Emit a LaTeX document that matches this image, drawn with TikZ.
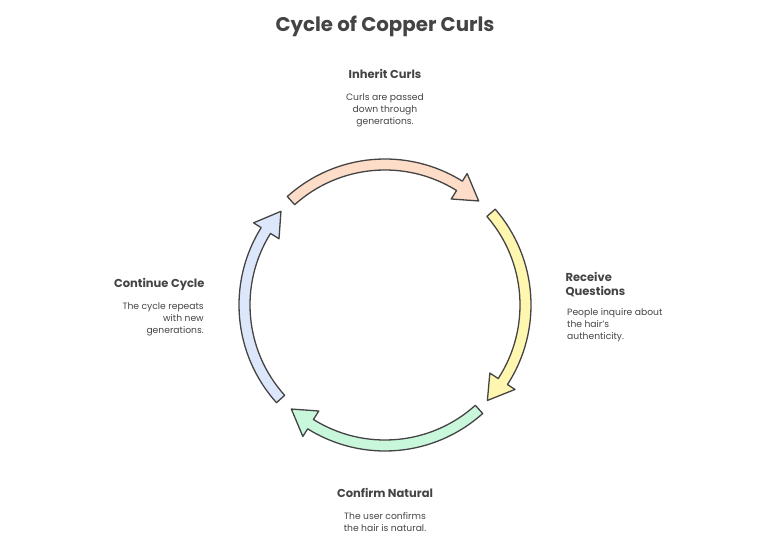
\documentclass[tikz,border=0pt]{standalone}
\usepackage{fontspec}
\setmainfont{Poppins}
\usepackage{tikz}
\usetikzlibrary{positioning, calc}

\definecolor{ink}{HTML}{444444}
\definecolor{peach}{HTML}{FDDCC8}
\definecolor{lemon}{HTML}{FFF6B0}
\definecolor{mint}{HTML}{C8F7DC}
\definecolor{sky}{HTML}{DDE7FC}

% one clockwise arrow of the cycle: tail angle, tip angle, fill
\newcommand{\cyclearrow}[3]{%
  \draw[arrowpiece, fill=#3] (#1:146) arc[start angle=#1, end angle=#2+10, radius=146]
    -- (#2+10:155) -- (#2:140) -- (#2+10:125) -- (#2+10:135)
    arc[start angle=#2+10, end angle=#1, radius=135] -- cycle;}

\begin{document}
\begin{tikzpicture}[x=1pt, y=1pt,
    arrowpiece/.style={draw=ink, line width=1.3pt, line join=round},
    titletext/.style={text=ink, font=\fontsize{19.8}{23}\selectfont\bfseries},
    headtext/.style={text=ink, font=\fontsize{11.5}{14}\selectfont\bfseries},
    bodytext/.style={text=ink, font=\fontsize{9.2}{12}\selectfont, inner sep=0pt}]
  \useasboundingbox (0,0) rectangle (770,554);

  \node[titletext] (title) at (385,528) {Cycle of Copper Curls};

  % the four steps round the circle
  \node[headtext] (inherit) at (385,480) {Inherit Curls};
  \node[bodytext, align=center, below=11pt of inherit] (inheritbody) {Curls are passed\\down through\\generations.};

  \node[headtext, anchor=north west, align=left] (receive) at (562,285) {Receive\\Questions};
  \node[bodytext, align=left, anchor=north west] (receivebody) at (567,246) {People inquire about\\the hair's\\authenticity.};

  \node[headtext] (confirm) at (385,61) {Confirm Natural};
  \node[bodytext, align=center, below=11pt of confirm] (confirmbody) {The user confirms\\the hair is natural.};

  \node[headtext, anchor=east] (continue) at (208,270) {Continue Cycle};
  \node[bodytext, align=right, anchor=north east] (continuebody) at (204,252) {The cycle repeats\\with new\\generations.};

  % the ring of arrows
  \begin{scope}[shift={(385,249)}]
    \cyclearrow{132}{48}{peach}
    \cyclearrow{41}{-43}{lemon}
    \cyclearrow{-48}{-132}{mint}
    \cyclearrow{222}{138}{sky}
  \end{scope}
\end{tikzpicture}
\end{document}
